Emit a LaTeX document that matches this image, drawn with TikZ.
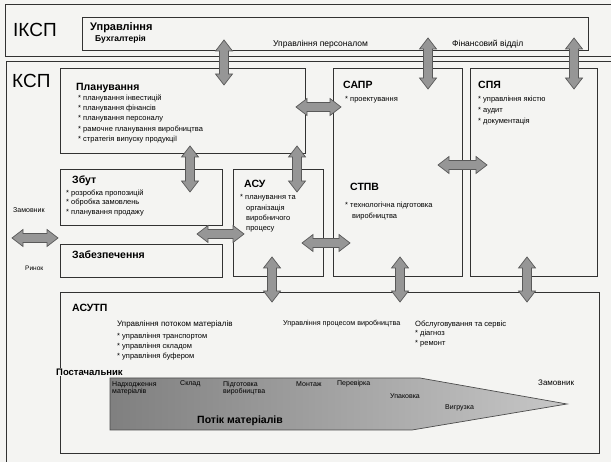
\documentclass[tikz,border=0pt]{standalone}
\usepackage{fontspec}
\setmainfont{Liberation Sans}
\usetikzlibrary{positioning}

\definecolor{paper}{RGB}{244,244,242}
\definecolor{ink}{RGB}{50,50,50}
\definecolor{arrfill}{RGB}{150,150,150}

\newcommand{\fs}[1]{\fontsize{#1}{#1}\selectfont}
% fat double arrows: vertical {x}{top}{bottom}, horizontal {y}{left}{right}
\newcommand{\varr}[3]{\filldraw[fatarr] (#1,#2) -- ({#1+8.5},{#2+11}) -- ({#1+4.5},{#2+11}) -- ({#1+4.5},{#3-11}) -- ({#1+8.5},{#3-11}) -- (#1,#3) -- ({#1-8.5},{#3-11}) -- ({#1-4.5},{#3-11}) -- ({#1-4.5},{#2+11}) -- ({#1-8.5},{#2+11}) -- cycle;}
\newcommand{\harr}[3]{\filldraw[fatarr] (#2,#1) -- ({#2+11},{#1-8.5}) -- ({#2+11},{#1-4.5}) -- ({#3-11},{#1-4.5}) -- ({#3-11},{#1-8.5}) -- (#3,#1) -- ({#3-11},{#1+8.5}) -- ({#3-11},{#1+4.5}) -- ({#2+11},{#1+4.5}) -- ({#2+11},{#1+8.5}) -- cycle;}

\begin{document}
\begin{tikzpicture}[x=1pt, y=-1pt,
  box/.style={draw=ink, line width=0.9pt, anchor=north west, inner sep=0pt},
  head/.style={font=\bfseries\fs{10.5}, anchor=west, inner sep=0pt},
  item/.style={font=\fs{7.5}, anchor=west, inner sep=0pt},
  lbl/.style={font=\fs{8.5}, anchor=west, inner sep=0pt},
  flow/.style={font=\fs{7}, anchor=west, inner sep=0pt, align=left},
  fatarr/.style={fill=arrfill, draw=black!65, line width=0.7pt}]

\useasboundingbox (0,0) rectangle (611,462);
\fill[paper] (0,0) rectangle (611,462);
\clip (0,0) rectangle (611,462);

% outer frames
\node[box, minimum width=612pt, minimum height=52pt] (iksp) at (5,4) {};
\node[box, minimum width=612pt, minimum height=410pt] (ksp) at (6,61) {};
\node[font=\fs{19}, anchor=west, inner sep=0pt] (ikspT) at (13,30) {ІКСП};
\node[font=\fs{19}, anchor=west, inner sep=0pt] (kspT) at (12,81) {КСП};

% boxes
\node[box, minimum width=506pt, minimum height=33pt] (upr) at (82,17) {};
\node[box, minimum width=245pt, minimum height=85pt] (plan) at (60,68) {};
\node[box, minimum width=129pt, minimum height=208pt] (sapr) at (333,68) {};
\node[box, minimum width=127pt, minimum height=208pt] (spya) at (470,68) {};
\node[box, minimum width=162pt, minimum height=56pt] (zbut) at (60,169) {};
\node[box, minimum width=90pt, minimum height=107pt] (asu) at (233,169) {};
\node[box, minimum width=162pt, minimum height=33pt] (zabez) at (60,244) {};
\node[box, minimum width=539pt, minimum height=161pt] (asutp) at (60,292) {};

% material flow
\shadedraw[left color=black!50, right color=black!22, draw=black!70, line width=0.7pt]
  (110,378) -- (420,378) -- (567,404) -- (412,430) -- (110,430) -- cycle;

% arrows
\varr{224}{40}{85}
\varr{428}{38}{89}
\varr{574}{38}{89}
\harr{107}{296}{341}
\varr{190}{146}{192}
\varr{297}{146}{192}
\harr{165}{438}{487}
\harr{234}{197}{244}
\harr{243}{302}{350}
\harr{238}{12}{58}
\varr{272}{257}{302}
\varr{400}{257}{302}
\varr{527}{257}{302}

% IKSP texts
\node[font=\bfseries\fs{11}, anchor=west, inner sep=0pt] (uprT) at (90,28) {Управління};
\node[font=\bfseries\fs{8.5}, anchor=west, inner sep=0pt] (buh) at (95,39) {Бухгалтерія};
\node[lbl] (pers) at (273,44) {Управління персоналом};
\node[lbl] (fin) at (452,44) {Фінансовий відділ};

% planning
\node[head] (planT) at (76,88) {Планування};
\foreach \t [count=\i] in {планування інвестицій, планування фінансів, планування персоналу, рамочне планування виробництва, стратегія випуску продукції}
  \node[item] (pl\i) at (78,{98+10.4*(\i-1)}) {* \t};

% SAPR / STPV / SPYa
\node[head] (saprT) at (343,85) {САПР};
\node[item] (sa1) at (345,100) {* проектування};
\node[head] (stpvT) at (350,187) {СТПВ};
\node[item] (st1) at (345,206) {* технологічна підготовка};
\node[item] (st2) at (352,217) {виробництва};
\node[head] (spyaT) at (478,85) {СПЯ};
\foreach \t [count=\i] in {управління якістю, аудит, документація}
  \node[item] (sp\i) at (478,{100+11*(\i-1)}) {* \t};

% sales, ASU, supply
\node[head] (zbutT) at (72,181) {Збут};
\foreach \t [count=\i] in {розробка пропозицій, обробка замовлень, планування продажу}
  \node[item] (zb\i) at (66,{193+10*(\i-1)}) {* \t};
\node[head] (asuT) at (244,184) {АСУ};
\node[item] (as1) at (240,198) {* планування та};
\foreach \t [count=\i] in {організація, виробничого, процесу}
  \node[item] (as\i b) at (246,{209+10*(\i-1)}) {\t};
\node[head] (zabT) at (72,255) {Забезпечення};
\node[font=\fs{7}, anchor=west, inner sep=0pt] (zamL) at (13,210) {Замовник};
\node[font=\fs{6.5}, anchor=west, inner sep=0pt] (rynok) at (25,268) {Ринок};

% ASUTP
\node[head] (asutpT) at (72,308) {АСУТП};
\node[lbl, font=\fs{8}] (pot) at (117,324) {Управління потоком матеріалів};
\foreach \t [count=\i] in {управління транспортом, управління складом, управління буфером}
  \node[item] (po\i) at (117,{337+10*(\i-1)}) {* \t};
\node[lbl, font=\fs{7.2}] (proc) at (283,324) {Управління процесом виробництва};
\node[lbl, font=\fs{7.6}] (serv) at (415,325) {Обслуговування та сервіс};
\node[item] (se1) at (415,334) {* діагноз};
\node[item] (se2) at (415,344) {* ремонт};
\node[font=\bfseries\fs{9.5}, anchor=west, inner sep=1pt, fill=paper] (post) at (55,372) {Постачальник};
\node[lbl, font=\fs{8}] (zamR) at (538,383) {Замовник};

% flow stages
\node[flow] (f1) at (112,388) {Надходження\\матеріалів};
\node[flow] (f2) at (180,384) {Склад};
\node[flow] (f3) at (223,388) {Підготовка\\виробництва};
\node[flow] (f4) at (296,384) {Монтаж};
\node[flow] (f5) at (337,384) {Перевірка};
\node[flow] (f6) at (390,396) {Упаковка};
\node[flow] (f7) at (445,408) {Вигрузка};
\node[font=\bfseries\fs{10.5}, inner sep=0pt] (potik) at (240,421) {Потік матеріалів};
\end{tikzpicture}
\end{document}
